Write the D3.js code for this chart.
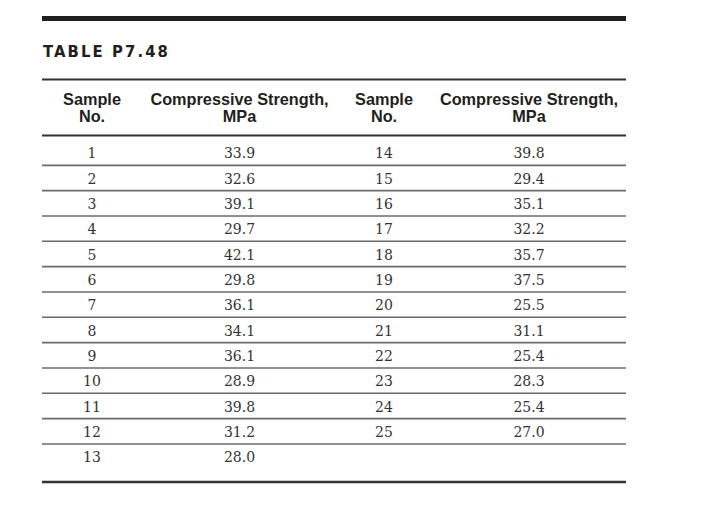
<!DOCTYPE html>
<html>
<head>
<meta charset="utf-8">
<script src="https://cdn.jsdelivr.net/npm/d3@7"></script>
<style>
  body { margin: 0; background: #fff; }
</style>
</head>
<body>
<div id="table-div"></div>
<script>
// table data
const title = "TABLE P7.48"
const headers = [["Sample", "No."], ["Compressive Strength,", "MPa"], ["Sample", "No."], ["Compressive Strength,", "MPa"]]
const sampleNo = [1, 2, 3, 4, 5, 6, 7, 8, 9, 10, 11, 12, 13, 14, 15, 16, 17, 18, 19, 20, 21, 22, 23, 24, 25]
const strength = [33.9, 32.6, 39.1, 29.7, 42.1, 29.8, 36.1, 34.1, 36.1, 28.9, 39.8, 31.2, 28.0,
  39.8, 29.4, 35.1, 32.2, 35.7, 37.5, 25.5, 31.1, 25.4, 28.3, 25.4, 27.0]

function drawTable() {
  const width = 727, height = 505
  const left = 42, right = 626
  const nRows = 13

  const svg = d3.select("#table-div").append("svg")
    .attr("width", width).attr("height", height)

  // split into two column groups
  const rows = d3.range(nRows).map(i => ({
    i: i,
    a: sampleNo[i], b: strength[i],
    c: sampleNo[i + nRows], d: strength[i + nRows]
  }))

  // column centres are not evenly spaced in the original
  const colX = [92, 239.5, 384, 529]

  let y = d3.scaleBand()
    .domain(d3.range(nRows))
    .range([140, 140 + nRows * 25.33])

  // top thick rule
  svg.append("rect")
    .attr("x", left).attr("y", 16)
    .attr("width", right - left).attr("height", 5)
    .attr("fill", "#231f20")

  svg.append("text")
    .attr("x", 43).attr("y", 57)
    .text(title)
    .style("font-family", "'Liberation Sans Narrow', 'DejaVu Sans Condensed', sans-serif")
    .style("font-stretch", "condensed")
    .style("font-weight", "bold")
    .style("font-size", "16.5px")
    .style("letter-spacing", "2.1px")
    .attr("fill", "#231f20")

  // header rules
  ;[79.5, 135.5].forEach(yy => {
    svg.append("line")
      .attr("x1", left).attr("x2", right)
      .attr("y1", yy).attr("y2", yy)
      .attr("stroke", "#333").attr("stroke-width", 2)
  })

  const head = svg.append("g")
  headers.forEach((h, j) => {
    h.forEach((t, k) => {
      head.append("text")
        .attr("x", colX[j]).attr("y", 105 + k * 17)
        .attr("text-anchor", "middle")
        .text(t)
        .style("font-family", "'Liberation Sans', Arial, sans-serif")
        .style("font-weight", "bold")
        .style("font-size", "16.3px")
        .attr("fill", "#231f20")
    })
  })

  // body rows
  const groups = svg.append("g")
    .selectAll("g")
    .data(rows)
    .enter()
    .append("g")
    .attr("transform", d => `translate(0 ${y(d.i) + y.bandwidth()})`)

  groups.filter(d => d.i < nRows - 1)
    .append("line")
    .attr("x1", left).attr("x2", right)
    .attr("y1", 0).attr("y2", 0)
    .attr("stroke", "#6b6b6b").attr("stroke-width", 1.6)

  groups.selectAll("text")
    .data(d => [d.a, d.b, d.c, d.d].map((v, j) => ({ v: v, j: j })).filter(c => c.v !== undefined))
    .enter()
    .append("text")
    .attr("x", c => colX[c.j])
    .attr("y", -7)
    .attr("text-anchor", "middle")
    .text(c => (c.j % 2 === 1) ? c.v.toFixed(1) : c.v)
    .style("font-family", "'DejaVu Serif', serif")
    .style("font-size", "14px")
    .attr("fill", "#333")

  // bottom rule
  svg.append("line")
    .attr("x1", left).attr("x2", right)
    .attr("y1", 482).attr("y2", 482)
    .attr("stroke", "#333").attr("stroke-width", 2.5)
}

window.onload = drawTable()
</script>
</body>
</html>
